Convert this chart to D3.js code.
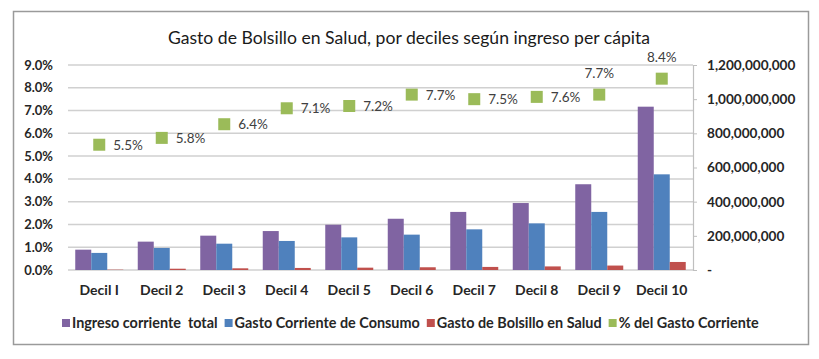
<!DOCTYPE html>
<html><head><meta charset="utf-8">
<script src="https://cdn.jsdelivr.net/npm/d3@7"></script>
<style>body{margin:0;background:#fff}svg{display:block}text{font-family:Lato,"Open Sans",sans-serif}</style>
</head><body><svg id="c" width="819" height="359"></svg>
<script>
const categories = ["Decil I","Decil 2","Decil 3","Decil 4","Decil 5","Decil 6","Decil 7","Decil 8","Decil 9","Decil 10"];
const ingreso = [119e6,166e6,201e6,228e6,265e6,300e6,340e6,392e6,502e6,956e6];
const gastoConsumo = [100e6,129e6,154e6,170e6,191e6,207e6,238e6,273e6,340e6,560e6];
const gastoBolsillo = [2e6,7.5e6,9.9e6,12e6,13.7e6,16e6,18e6,21e6,26e6,47e6];
const pctGasto = [0.055,0.058,0.064,0.071,0.072,0.077,0.075,0.076,0.077,0.084];
const labelPos = ["right","right","right","right","right","right","right","right","above","above"];
const leftTicks = [0,0.01,0.02,0.03,0.04,0.05,0.06,0.07,0.08,0.09];
const rightTicks = [0,200e6,400e6,600e6,800e6,1000e6,1200e6];
const seriesNames = ["Ingreso corriente  total","Gasto Corriente de Consumo","Gasto de Bolsillo en Salud","% del Gasto Corriente"];
const colors = ["#8064A2","#4F81BD","#C0504D","#9BBB59"];
const title = "Gasto de Bolsillo en Salud, por deciles según ingreso per cápita";

const svg = d3.select("#c");
const L=68,R=693,T=65,B=270;
svg.append("rect").attr("x",13.5).attr("y",11.5).attr("width",795).attr("height",333)
  .attr("fill","#fff").attr("stroke","#9a9a9a").attr("stroke-width",1.5);

svg.append("text").attr("x",409).attr("y",44).attr("text-anchor","middle")
  .attr("font-size",17.6).attr("fill","#1a1a1a").text(title);

const x = d3.scaleBand().domain(categories).range([L,R]).padding(0);
const groups = [ingreso,gastoConsumo,gastoBolsillo];
const bw = x.bandwidth();
const x1 = d3.scaleBand().domain([0,1,2]).range([(bw-48)/2,(bw+48)/2]);
const yL = d3.scaleLinear().domain([0,0.09]).range([B,T]);
const yR = d3.scaleLinear().domain([0,1.2e9]).range([B,T]);

// gridlines
svg.append("g").selectAll("line").data(leftTicks).join("line")
  .attr("x1",L).attr("x2",R).attr("y1",d=>yL(d)).attr("y2",d=>yL(d))
  .attr("stroke","#d0d0d0").attr("stroke-width",1.5);

// left axis labels
svg.append("g").selectAll("text").data(leftTicks).join("text")
  .attr("x",53).attr("y",d=>yL(d)).attr("dy","0.35em").attr("text-anchor","end")
  .attr("font-size",13).attr("font-weight","bold").attr("fill","#262626")
  .text(d=>d3.format(".1%")(d));

// right axis
const ra = d3.axisRight(yR).tickValues(rightTicks).tickSize(4)
  .tickFormat(d=>d===0?"-":d3.format(",")(d)).tickPadding(10);
const rg = svg.append("g").attr("transform",`translate(${R},0)`).call(ra);
rg.select(".domain").attr("stroke","#bfbfbf").attr("stroke-width",1.2);
rg.selectAll(".tick line").attr("stroke","#bfbfbf");
rg.selectAll(".tick text").attr("font-size",13.6).attr("font-weight","bold").attr("fill","#262626")
  .attr("font-family","Lato,'Open Sans',sans-serif");

// bars
groups.forEach((arr,si)=>{
  svg.append("g").selectAll("rect").data(arr).join("rect")
    .attr("x",(d,i)=>x(categories[i])+x1(si)).attr("width",x1.bandwidth())
    .attr("y",d=>yR(d)).attr("height",d=>B-yR(d)).attr("fill",colors[si]);
});

// category labels
svg.append("g").selectAll("text").data(categories).join("text")
  .attr("x",d=>x(d)+bw/2).attr("y",294.5).attr("text-anchor","middle")
  .attr("font-size",14).attr("font-weight","bold").attr("fill","#262626").text(d=>d);

// green markers
const cx = i=>x(categories[i])+bw/2;
svg.append("g").selectAll("rect").data(pctGasto).join("rect")
  .attr("x",(d,i)=>cx(i)-6).attr("y",d=>yL(d)-6).attr("width",12).attr("height",12)
  .attr("fill",colors[3]);
svg.append("g").selectAll("text").data(pctGasto).join("text")
  .attr("x",(d,i)=>labelPos[i]==="right"?cx(i)+14:cx(i))
  .attr("y",(d,i)=>labelPos[i]==="right"?yL(d)+5:yL(d)-17)
  .attr("text-anchor",(d,i)=>labelPos[i]==="right"?"start":"middle")
  .attr("font-size",13.5).attr("fill","#404040").text(d=>d3.format(".1%")(d));

// legend
const lg = svg.append("g");
let lx = 62;
seriesNames.forEach((n,i)=>{
  lg.append("rect").attr("x",lx).attr("y",319).attr("width",8).attr("height",8).attr("fill",colors[i]);
  const t = lg.append("text").attr("x",lx+10).attr("y",328).attr("font-size",14.4)
    .attr("font-weight","bold").attr("fill","#262626").style("white-space","pre").text(n);
  lx += 10 + t.node().getComputedTextLength() + 7;
});
</script></body></html>
